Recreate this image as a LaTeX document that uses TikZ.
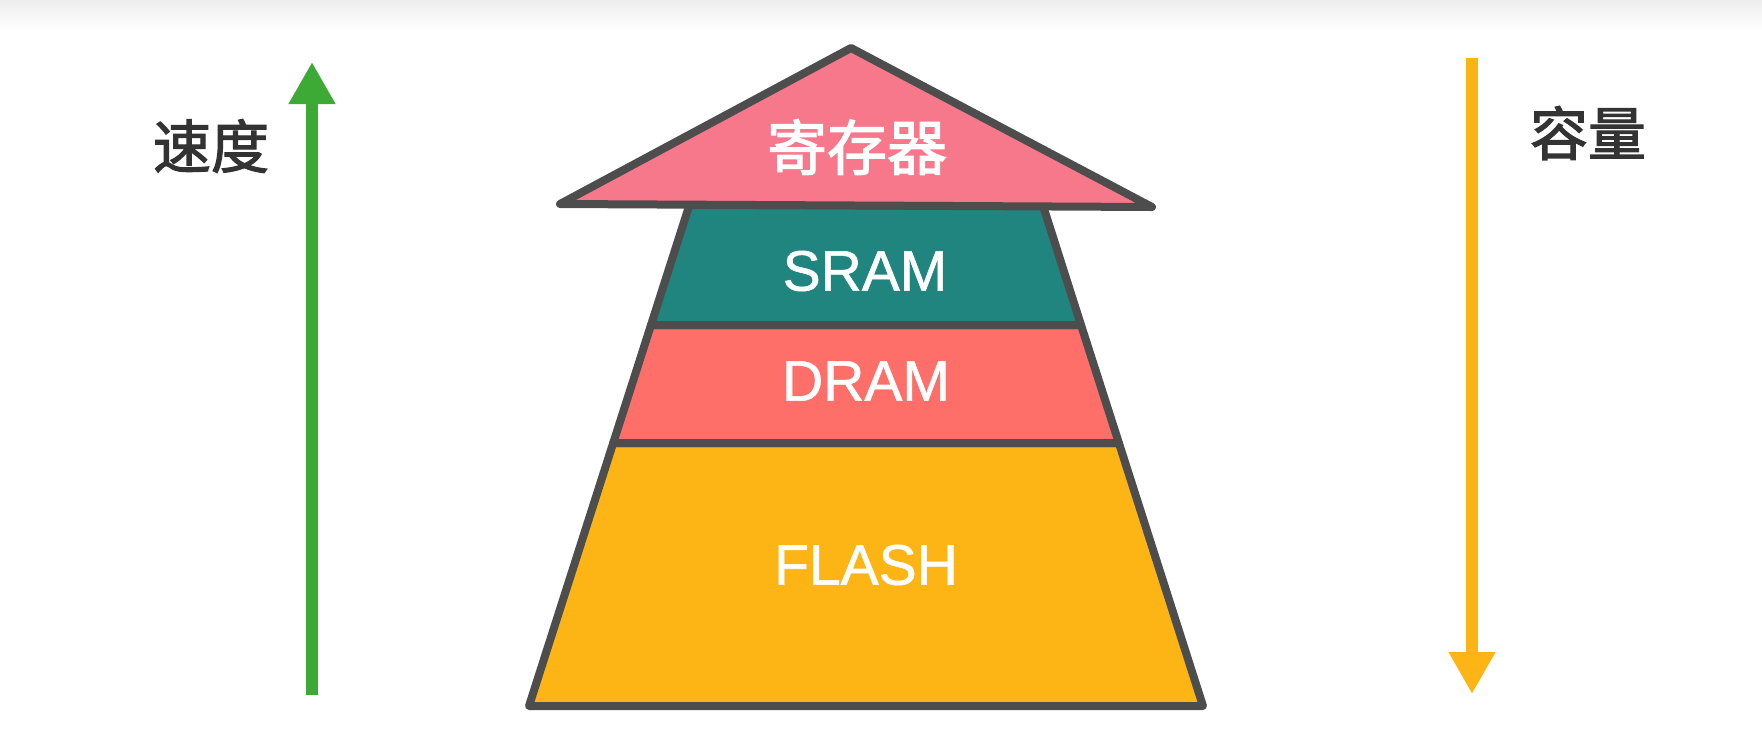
\documentclass[tikz,border=0pt]{standalone}
\usepackage{fontspec}
\setmainfont{Liberation Sans}[FakeBold=1]
\newfontfamily\cjk{Noto Sans CJK SC}[FakeBold=2]
\usetikzlibrary{arrows.meta}
\definecolor{outline}{HTML}{4D4D4D}
\definecolor{regpink}{HTML}{F7788B}
\definecolor{sramteal}{HTML}{21857F}
\definecolor{dramred}{HTML}{FF6F6A}
\definecolor{flashamber}{HTML}{FDB516}
\definecolor{speedgreen}{HTML}{3DAA35}
\definecolor{capamber}{HTML}{FDB516}
\definecolor{labelgray}{HTML}{333333}
\begin{document}
\begin{tikzpicture}[x=1pt,y=-1pt,
  layer/.style={draw=outline,line width=8pt,line join=round},
  whitelabel/.style={text=white,font=\fontsize{57}{60}\selectfont,inner sep=0pt},
  cjklabel/.style={text=white,font=\cjk\fontsize{60}{64}\selectfont,inner sep=0pt},
  sidelabel/.style={text=labelgray,font=\cjk\fontsize{58}{62}\selectfont,inner sep=0pt},
  bigarrow/.style={line width=12pt,-{Triangle[width=44pt,length=42pt]}}]
\useasboundingbox (0,0) rectangle (1762,748);
\shade[top color=black!7,bottom color=white] (0,0) rectangle (1762,30);
% pyramid corner coordinates: x_L(y)=627-0.32(y-400), x_R(y)=1045+0.32(y-212)
\coordinate (s1) at (689.4,205);
\coordinate (s2) at (1042.8,205);
\coordinate (s3) at (1081,325);
\coordinate (s4) at (651,325);
\coordinate (d3) at (1118.9,443);
\coordinate (d4) at (613.2,443);
\coordinate (f3) at (1203,706);
\coordinate (f4) at (529,706);
\filldraw[layer,fill=flashamber] (d4) -- (d3) -- (f3) -- (f4) -- cycle;
\filldraw[layer,fill=dramred] (s4) -- (s3) -- (d3) -- (d4) -- cycle;
\filldraw[layer,fill=sramteal] (s1) -- (s2) -- (s3) -- (s4) -- cycle;
% register triangle
\coordinate (tapex) at (851,48);
\coordinate (tleft) at (560,204);
\coordinate (tright) at (1152,207);
\filldraw[layer,fill=regpink] (tapex) -- (tright) -- (tleft) -- cycle;
% labels
\node[cjklabel] (reg) at (857,147) {寄存器};
\node[whitelabel] (sram) at (865,271) {SRAM};
\node[whitelabel] (dram) at (866,381) {DRAM};
\node[whitelabel] (flash) at (866,565) {FLASH};
% side arrows
\coordinate (gbot) at (312,695);
\coordinate (gtop) at (312,62);
\draw[bigarrow,speedgreen] (gbot) -- (gtop);
\node[sidelabel] (speed) at (211,146) {速度};
\coordinate (otop) at (1472,58);
\coordinate (obot) at (1472,694);
\draw[bigarrow,capamber] (otop) -- (obot);
\node[sidelabel] (cap) at (1588,133) {容量};
\end{tikzpicture}
\end{document}
